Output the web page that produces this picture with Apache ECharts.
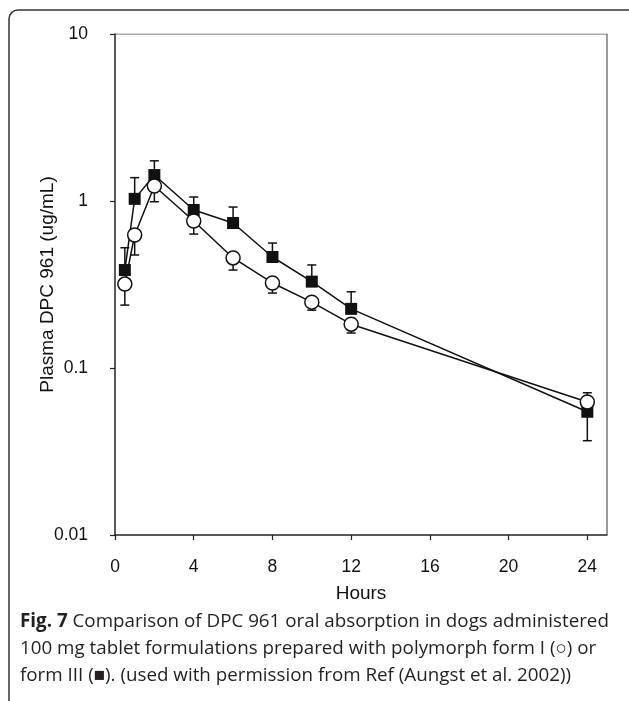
<!DOCTYPE html>
<html>
<head>
<meta charset="utf-8">
<script src="https://cdn.jsdelivr.net/npm/echarts@6/dist/echarts.min.js"></script>
<style>
html,body{margin:0;padding:0;background:#fff;}
#chart{width:629px;height:701px;}
</style>
</head>
<body>
<div id="chart"></div>
<script>
// Data
const hours = [0.5, 1, 2, 4, 6, 8, 10, 12, 24];
const formIII = [0.386, 1.03, 1.43, 0.883, 0.738, 0.462, 0.329, 0.226, 0.0547];   // filled squares
const formIIIErrEnd = [0.525, 1.38, 1.74, 1.057, 0.92, 0.56, 0.414, 0.286, 0.0367];
const formI = [0.318, 0.626, 1.23, 0.759, 0.456, 0.323, 0.248, 0.183, 0.0626];     // open circles
const formIErrEnd = [0.238, 0.475, 0.99, 0.634, 0.386, 0.281, 0.222, 0.162, 0.0711];
const xTicks = [0, 4, 8, 12, 16, 20, 24];
const yTicks = [0.01, 0.1, 1, 10];

const chart = echarts.init(document.getElementById('chart'));
const axisFont = 'Liberation Sans, Arial, sans-serif';

function errSeries(vals, ends) {
  return {
    type: 'custom',
    z: 1,
    data: hours.map((h, i) => [h, vals[i], ends[i]]),
    renderItem: function (params, api) {
      const p0 = api.coord([api.value(0), api.value(1)]);
      const p1 = api.coord([api.value(0), api.value(2)]);
      const w = 4.5;
      return {
        type: 'group',
        children: [
          {type: 'line', shape: {x1: p0[0], y1: p0[1], x2: p1[0], y2: p1[1]}, style: {stroke: '#111', lineWidth: 1.5}},
          {type: 'line', shape: {x1: p1[0] - w, y1: p1[1], x2: p1[0] + w, y2: p1[1]}, style: {stroke: '#111', lineWidth: 1.5}}
        ]
      };
    }
  };
}

const option = {
  animation: false,
  backgroundColor: '#fff',
  grid: {left: 115, right: 22, top: 34, bottom: 166, containLabel: false},
  xAxis: {
    type: 'value', min: 0, max: 25, interval: 4,
    axisLine: {show: true, lineStyle: {color: '#222', width: 1.5}},
    axisTick: {show: true, length: 5, inside: false, lineStyle: {color: '#222', width: 1.2},
      customValues: xTicks},
    axisLabel: {color: '#111', fontSize: 17.5, fontFamily: axisFont, margin: 23,
      customValues: xTicks},
    splitLine: {show: false},
    name: 'Hours', nameLocation: 'middle', nameGap: 49,
    nameTextStyle: {color: '#111', fontSize: 19, fontFamily: axisFont}
  },
  yAxis: {
    type: 'log', logBase: 10, min: 0.01, max: 10,
    axisLine: {show: true, lineStyle: {color: '#222', width: 1.5}},
    axisTick: {show: true, length: 5, inside: false, lineStyle: {color: '#222', width: 1.2},
      customValues: yTicks},
    axisLabel: {color: '#111', fontSize: 17.5, fontFamily: axisFont, margin: 27,
      customValues: yTicks,
      formatter: v => String(v)},
    minorTick: {show: false},
    splitLine: {show: false},
    name: 'Plasma DPC 961 (ug/mL)', nameLocation: 'middle', nameGap: 58, nameRotate: 90,
    nameMoveOverlap: false,
    nameTextStyle: {color: '#111', fontSize: 19, fontFamily: axisFont}
  },
  graphic: [
    {type: 'rect', shape: {x: 9, y: 10, width: 640, height: 720, r: 9},
      style: {fill: 'none', stroke: '#333', lineWidth: 1.5}, z: -10, silent: true},
    {type: 'text', left: 20, top: 612,
      style: {
        rich: {
          b: {fontWeight: 'bold', fontSize: 18.8, fontFamily: 'Open Sans, sans-serif', fill: '#231f20', lineHeight: 27},
          n: {fontSize: 18.8, fontFamily: 'Open Sans, sans-serif', fill: '#231f20', lineHeight: 27}
        },
        text: '{b|Fig. 7}{n| Comparison of DPC 961 oral absorption in dogs administered}\n{n|100 mg tablet formulations prepared with polymorph form I (○) or}\n{n|form III (■). (used with permission from Ref (Aungst et al. 2002))}'
      }
    }
  ],
  series: [
    errSeries(formIII, formIIIErrEnd),
    errSeries(formI, formIErrEnd),
    {
      type: 'line', z: 3,
      data: hours.map((h, i) => [h, formIII[i]]),
      symbol: 'rect', symbolSize: 12,
      lineStyle: {color: '#111', width: 1.5},
      itemStyle: {color: '#111', borderColor: '#111', borderWidth: 0}
    },
    {
      type: 'line', z: 4,
      data: hours.map((h, i) => [h, formI[i]]),
      symbol: 'circle', symbolSize: 14,
      lineStyle: {color: '#111', width: 1.5},
      itemStyle: {color: '#fff', borderColor: '#111', borderWidth: 1.5}
    },
    {
      // frame top/right lines
      type: 'line', z: 0, silent: true,
      data: [[0, 10], [25, 10], [25, 0.01]],
      symbol: 'none',
      lineStyle: {color: '#555', width: 1.2}
    }
  ]
};
chart.setOption(option);
</script>
</body>
</html>
